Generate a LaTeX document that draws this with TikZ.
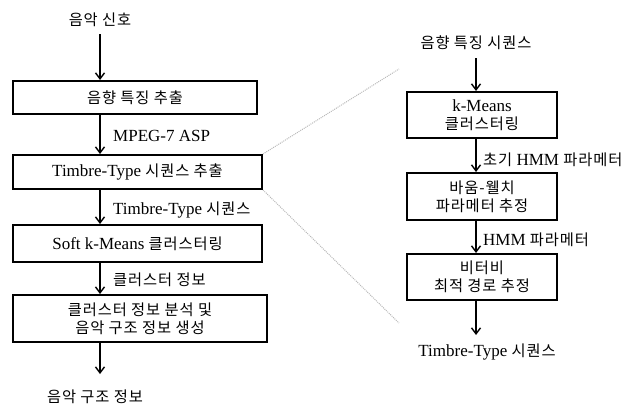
\documentclass[tikz,border=0pt]{standalone}
\usepackage{fontspec}
\setmainfont{Liberation Serif}
\newfontfamily\krf{Noto Sans CJK KR}[Scale=0.9,LetterSpace=6]
\newcommand{\kor}[1]{{\krf #1}}
\usetikzlibrary{arrows.meta}
\begin{document}
\begin{tikzpicture}[x=1pt,y=-1pt,
  every node/.style={font=\fontsize{17}{18}\selectfont, inner sep=0pt},
  procbox/.style={draw, line width=2pt, align=center, minimum height=34pt},
  arr/.style={line width=1.4pt, -{Straight Barb[length=6pt,width=9pt,line width=1.4pt]}},
  guide/.style={draw=gray!55, line width=1pt, densely dotted},
  lbl/.style={anchor=west}]
\useasboundingbox (0,0) rectangle (628,407);
% left column
\coordinate (ax) at (100,0);
\node (t0) at (100,20) {\kor{음악 신호}};
\node[procbox, minimum width=244pt, minimum height=33pt] (B1) at (135,97.5) {\kor{음향 특징 추출}};
\node[procbox, minimum width=249pt] (B2) at (137.5,172) {Timbre-Type \kor{시퀀스 추출}};
\node[procbox, minimum width=249pt, minimum height=37pt] (B3) at (137.5,243.5) {Soft k-Means \kor{클러스터링}};
\node[procbox, minimum width=254pt, minimum height=47pt] (B4) at (140,318.5) {\kor{클러스터 정보 분석 및}\\\kor{음악 구조 정보 생성}};
\node (t5) at (95,397) {\kor{음악 구조 정보}};
\coordinate (e5) at (100,374);
\draw[arr] (t0) ++(0,14) -- (B1.north -| ax);
\draw[arr] (B1.south -| ax) -- (B2.north -| ax);
\draw[arr] (B2.south -| ax) -- (B3.north -| ax);
\draw[arr] (B3.south -| ax) -- (B4.north -| ax);
\draw[arr] (B4.south -| ax) -- (e5);
\node[lbl] (l1) at (113,136) {MPEG-7 ASP};
\node[lbl] (l2) at (113,210) {Timbre-Type \kor{시퀀스}};
\node[lbl] (l3) at (113,280) {\kor{클러스터 정보}};
% right column
\coordinate (bx) at (476,0);
\node (r0) at (476,43) {\kor{음향 특징 시퀀스}};
\node[procbox, minimum width=150pt, minimum height=46pt] (R1) at (482,115) {k-Means\\\kor{클러스터링}};
\node[procbox, minimum width=150pt, minimum height=47pt] (R2) at (482,196.5) {\kor{바움-웰치}\\\kor{파라메터 추정}};
\node[procbox, minimum width=150pt, minimum height=46pt] (R3) at (482,277) {\kor{비터비}\\\kor{최적 경로 추정}};
\node (r4) at (487,352) {Timbre-Type \kor{시퀀스}};
\coordinate (e4) at (476,335);
\draw[arr] (r0) ++(0,15) -- (R1.north -| bx);
\draw[arr] (R1.south -| bx) -- (R2.north -| bx);
\draw[arr] (R2.south -| bx) -- (R3.north -| bx);
\draw[arr] (R3.south -| bx) -- (e4);
\node[lbl] (l4) at (483,160) {\kor{초기} HMM \kor{파라메터}};
\node[lbl] (l5) at (483,240) {HMM \kor{파라메터}};
% zoom guides
\coordinate (g1) at (399,69);
\coordinate (g2) at (399,323);
\draw[guide] (B2.north east) -- (g1);
\draw[guide] (B2.south east) -- (g2);
\end{tikzpicture}
\end{document}
